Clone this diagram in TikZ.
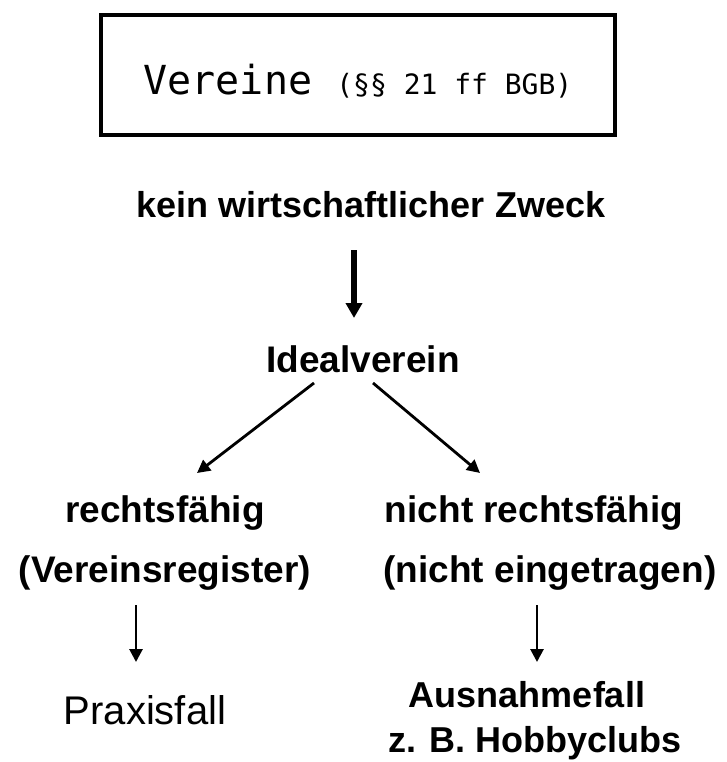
\documentclass[tikz,border=0pt]{standalone}
\usepackage{fontspec}
\setmainfont{Liberation Sans}
\newfontfamily\lcdfont{DejaVu Sans Mono}
\usetikzlibrary{arrows.meta}
\newlength{\du}
\setlength{\du}{1pt}
\newcommand{\schrift}[1]{\fontsize{#1}{#1}\selectfont}

\begin{document}
\begin{tikzpicture}[x=1\du,y=-1\du,
  txt/.style={anchor=base,inner sep=0pt},
  rahmen/.style={draw,line width=4\du,minimum width=514.5\du,minimum height=120\du,
    inner sep=0pt,text height=39\du,text depth=0pt},
  dickpfeil/.style={line width=5.5\du,-{Triangle[width=16pt,length=15pt]}},
  pfeil/.style={line width=2.8\du,-{Triangle[width=13pt,length=13pt]}}]
\useasboundingbox (0,0) rectangle (727,762);
% Kopf
\node[rahmen] (verein) at (358,75.5) {\lcdfont\schrift{40}Vereine {\schrift{28}(§§ 21 ff BGB)}};
\node[txt] (zweck) at (371,217) {\schrift{36}\bfseries kein wirtschaftlicher Zweck};
\node[txt] (ideal) at (363,372) {\schrift{37}\bfseries Idealverein};
% links
\node[txt] (rechts) at (165,522) {\schrift{37}\bfseries rechtsfähig};
\node[txt] (register) at (165,582) {\schrift{37}\bfseries (Vereinsregister)};
\node[txt] (praxis) at (145,724) {\schrift{40}Praxisfall};
% rechts
\node[txt] (nicht) at (534,522) {\schrift{37}\bfseries nicht rechtsfähig};
\node[txt] (eingetr) at (550,582) {\schrift{37}\bfseries (nicht eingetragen)};
\node[txt] (ausnahme) at (527,707) {\schrift{36}\bfseries Ausnahmefall};
\node[txt] (hobby) at (535,752) {\schrift{36}\bfseries z. B. Hobbyclubs};
% Pfeile
\draw[dickpfeil] ([xshift=-17pt,yshift=-33pt]zweck.base) -- ([xshift=-9pt,yshift=54pt]ideal.base);
\draw[pfeil] ([xshift=-49pt,yshift=-11pt]ideal.base) -- ([xshift=32pt,yshift=49pt]rechts.base);
\draw[pfeil] ([xshift=10pt,yshift=-11pt]ideal.base) -- ([xshift=-54pt,yshift=49pt]nicht.base);
\draw[pfeil] ([xshift=-29pt,yshift=-23pt]register.base) -- ([xshift=-9pt,yshift=62pt]praxis.base);
\draw[pfeil] ([xshift=-13pt,yshift=-23pt]eingetr.base) -- ([xshift=10pt,yshift=45pt]ausnahme.base);
\end{tikzpicture}
\end{document}
